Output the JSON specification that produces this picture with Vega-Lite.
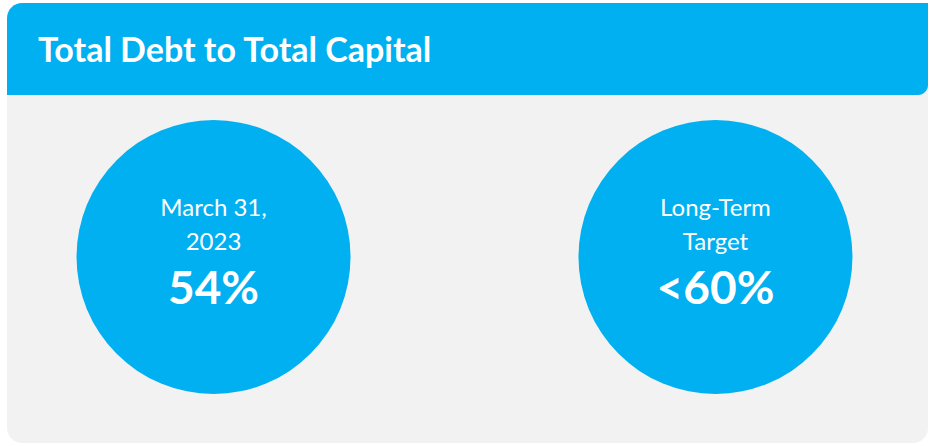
{
  "$schema": "https://vega.github.io/schema/vega-lite/v6.json",
  "width": 929,
  "height": 446,
  "padding": 0,
  "autosize": {"type": "fit", "contains": "padding"},
  "background": "#FFFFFF",
  "config": {"view": {"stroke": null}},
  "layer": [
    {
      "data": {"values": [{"panel": "body"}]},
      "mark": {"type": "rect", "fill": "#F2F2F2", "cornerRadiusBottomLeft": 15, "cornerRadiusBottomRight": 15},
      "encoding": {"x": {"value": 7}, "x2": {"value": 928}, "y": {"value": 80}, "y2": {"value": 443}}
    },
    {
      "data": {"values": [{"title": "Total Debt to Total Capital"}]},
      "mark": {"type": "rect", "fill": "#00B0F0", "cornerRadiusTopLeft": 15, "cornerRadiusBottomRight": 10},
      "encoding": {"x": {"value": 7}, "x2": {"value": 928}, "y": {"value": 3}, "y2": {"value": 95}}
    },
    {
      "data": {"values": [{"title": "Total Debt to Total Capital"}]},
      "mark": {"type": "text", "font": "Lato", "fontWeight": "bold", "fontSize": 34, "color": "#FFFFFF", "align": "left", "baseline": "alphabetic"},
      "encoding": {"x": {"value": 38}, "y": {"value": 62}, "text": {"field": "title", "type": "nominal"}}
    },
    {
      "data": {"name": "metrics", "values": [
        {"item": "current", "label": ["March 31,", "2023"], "value": "54%"},
        {"item": "target", "label": ["Long-Term", "Target"], "value": "<60%"}
      ]},
      "encoding": {
        "x": {"field": "item", "type": "nominal", "scale": {"type": "point", "domain": ["current", "target"], "padding": 0.4254}, "axis": null}
      },
      "layer": [
        {
          "mark": {"type": "point", "shape": "circle", "filled": true, "opacity": 1, "color": "#00B0F0", "strokeWidth": 0, "size": 75076},
          "encoding": {"y": {"value": 257}}
        },
        {
          "mark": {"type": "text", "font": "Lato", "fontSize": 24, "color": "#FFFFFF", "align": "center", "baseline": "alphabetic", "lineHeight": 34},
          "encoding": {
            "y": {"value": 216},
            "text": {"field": "label"}
          }
        },
        {
          "mark": {"type": "text", "font": "Lato", "fontWeight": "bold", "fontSize": 46, "color": "#FFFFFF", "align": "center", "baseline": "alphabetic"},
          "encoding": {
            "y": {"value": 304},
            "text": {"field": "value", "type": "nominal"}
          }
        }
      ]
    }
  ]
}
